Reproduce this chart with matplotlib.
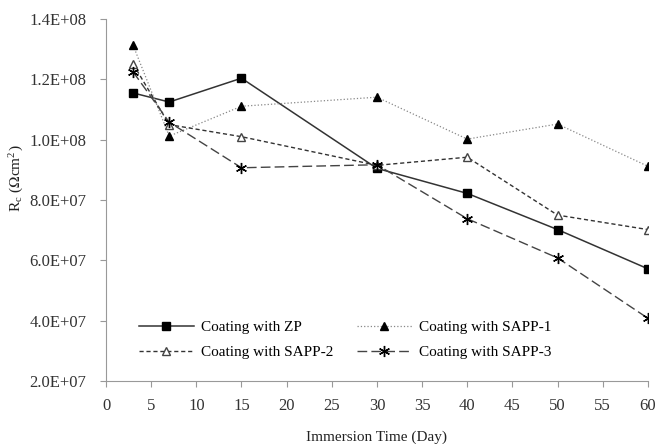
import numpy as np
import matplotlib.pyplot as plt

plt.rcParams['font.family'] = ['Liberation Serif', 'DejaVu Serif']
plt.rcParams['mathtext.fontset'] = 'stix'

# ── data ─────────────────────────────────────────────
days = [3, 7, 15, 30, 40, 50, 60]
zp     = [1.155e8, 1.125e8, 1.204e8, 9.05e7, 8.22e7, 7.02e7, 5.72e7]
sapp_1 = [1.313e8, 1.012e8, 1.111e8, 1.141e8, 1.002e8, 1.052e8, 9.12e7]
sapp_2 = [1.251e8, 1.050e8, 1.010e8, 9.15e7, 9.42e7, 7.50e7, 7.02e7]
sapp_3 = [1.225e8, 1.058e8, 9.07e7, 9.17e7, 7.38e7, 6.08e7, 4.08e7]
labels = ['Coating with ZP', 'Coating with SAPP-1',
          'Coating with SAPP-2', 'Coating with SAPP-3']
yticks = [2e7, 4e7, 6e7, 8e7, 1e8, 1.2e8, 1.4e8]
ytick_labels = ['2.0E+07', '4.0E+07', '6.0E+07', '8.0E+07',
                '1.0E+08', '1.2E+08', '1.4E+08']

fig = plt.figure(figsize=(6.56, 4.44), dpi=100)
ax = fig.add_axes([0.1616, 0.142, 0.826, 0.815])

h0, = ax.plot(days, zp, '-', color='#333333', lw=1.1, marker='s', ms=6,
              mfc='black', mec='black', label=labels[0])
h1, = ax.plot(days, sapp_1, ':', color='#888888', lw=0.9, marker='^', ms=6,
              mfc='black', mec='black', label=labels[1])
h2, = ax.plot(days, sapp_2, '--', color='#333333', lw=1.0, dashes=(3, 2), marker='^', ms=6,
              mfc='white', mec='#444444', label=labels[2])
h3, = ax.plot(days, sapp_3, '--', color='#444444', lw=1.0, dashes=(7, 3), marker=(6, 2, 0),
              ms=8, mec='black', mew=1.0, label=labels[3])

ax.set_xlim(0, 60)
ax.set_ylim(2e7, 1.4e8)
ax.set_xticks(np.arange(0, 61, 5))
ax.set_yticks(yticks)
ax.set_yticklabels(ytick_labels)

for s in ['top', 'right']:
    ax.spines[s].set_visible(False)
for s in ['left', 'bottom']:
    ax.spines[s].set_color('#999999')
ax.tick_params(axis='both', colors='#999999', labelcolor='#333333',
               labelsize=12, direction='out', length=4)
ax.tick_params(axis='x', pad=8)
ax.tick_params(axis='y', pad=10)

ax.set_xlabel('Immersion Time (Day)', fontsize=11, color='#222222', labelpad=12)
ax.set_ylabel(r'R$_\mathregular{c}$ ($\Omega$cm$^\mathregular{2}$)', fontsize=11,
              color='#222222')
ax.yaxis.set_label_coords(-0.149, 0.56)

# row-major order like the reference: ZP, SAPP-1 / SAPP-2, SAPP-3
ax.legend([h0, h2, h1, h3], [labels[0], labels[2], labels[1], labels[3]],
          loc='upper left', bbox_to_anchor=(0.035, 0.205), ncol=2, frameon=False,
          fontsize=11, handlelength=3.6, handletextpad=0.5,
          columnspacing=1.5, labelspacing=0.75)

fig.savefig('out.png', dpi=100)
